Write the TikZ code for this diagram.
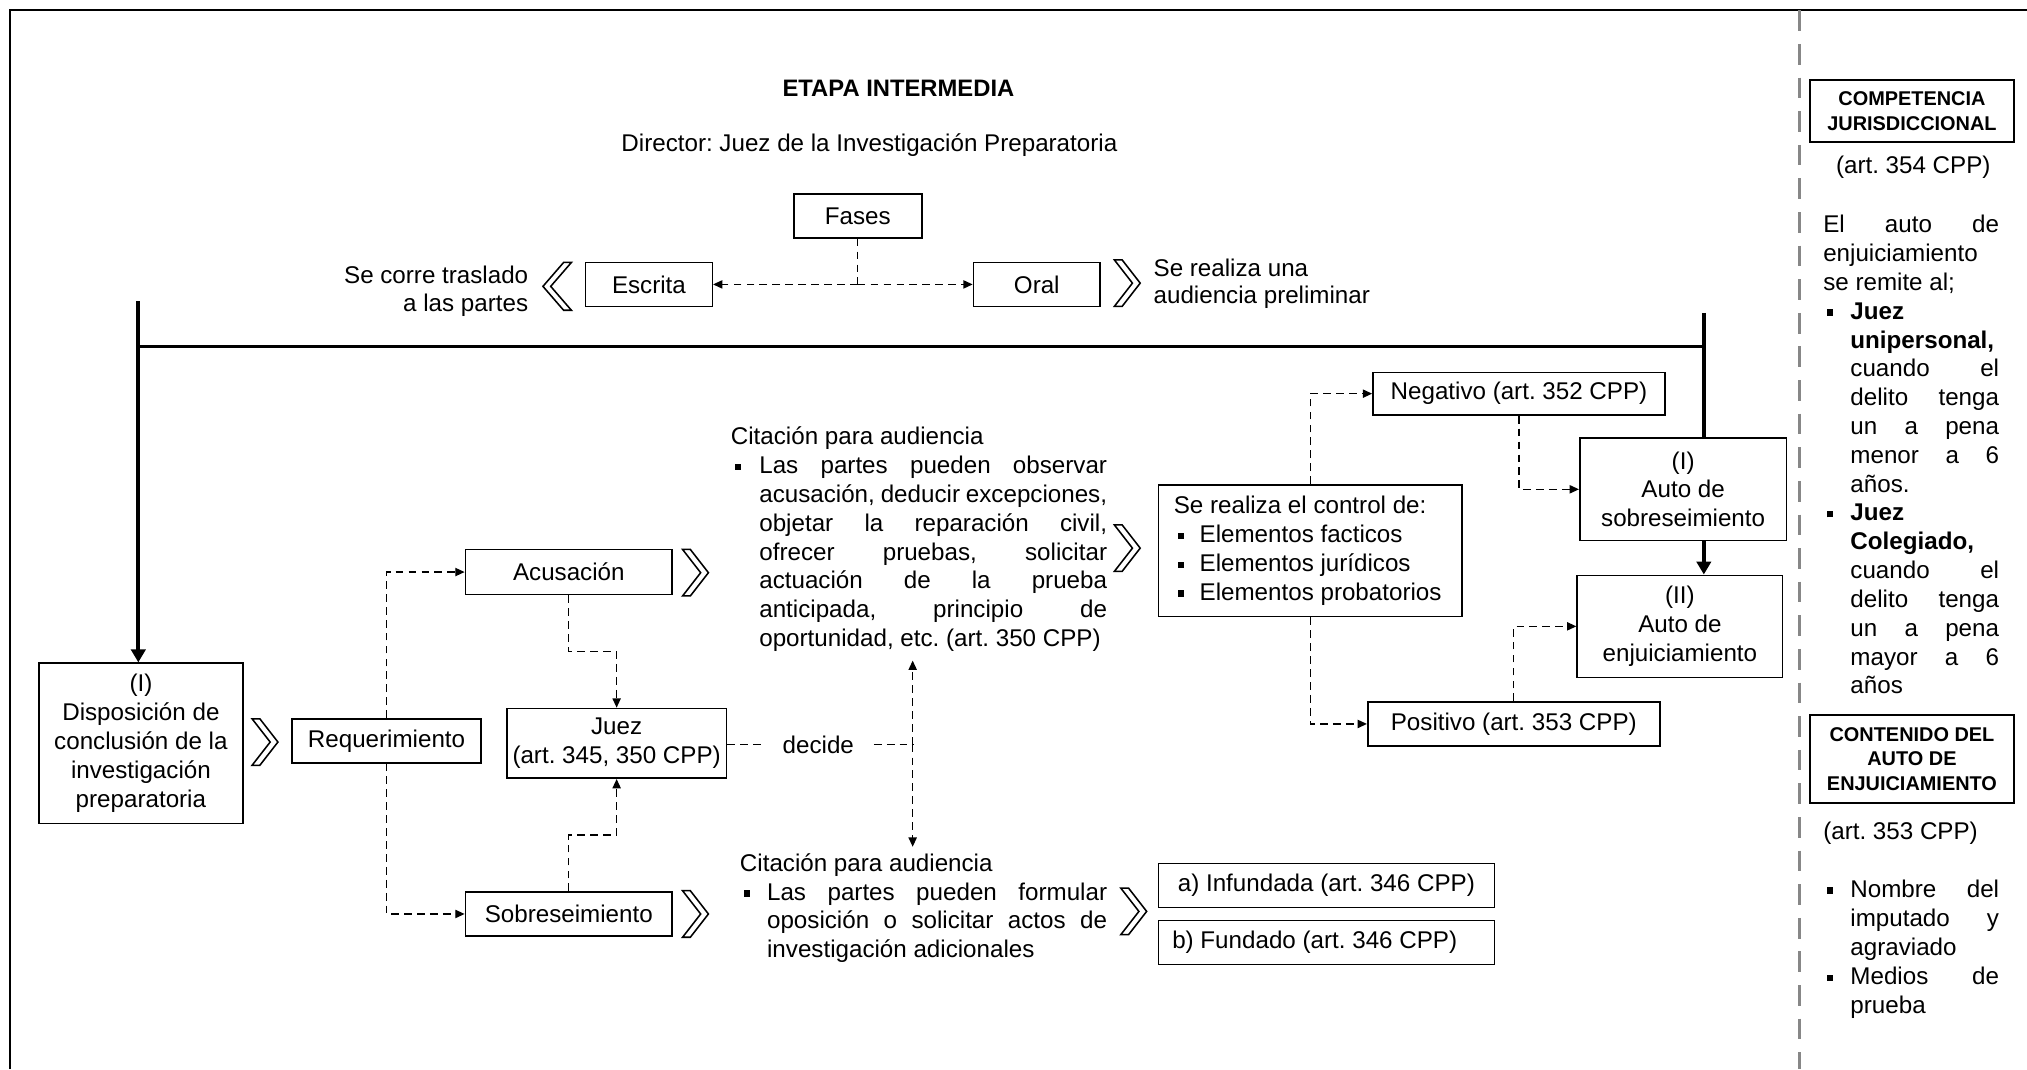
\documentclass[tikz,border=0pt]{standalone}
\usepackage{fontspec}
\setmainfont{Liberation Sans}
\usetikzlibrary{arrows.meta,calc}
\frenchspacing

% small square bullet
\newcommand\bul{\rule[1.4pt]{2.4pt}{2.4pt}}
% bullet + justified line / bullet + natural line
\newcommand\bj[3]{\makebox[#1][l]{\hspace*{1.5pt}\bul}\makebox[#2][s]{#3}}
\newcommand\bn[2]{\makebox[#1][l]{\hspace*{1.5pt}\bul}#2}
% continuation line: justified / natural
\newcommand\cj[3]{\hspace*{#1}\makebox[#2][s]{#3}}
\newcommand\cn[2]{\hspace*{#1}#2}

\tikzset{
  body/.style={font=\fontsize{9.35}{11.15}\selectfont},
  txt/.style={body, inner sep=0pt},
  box/.style={draw, line width=0.6pt, fill=white, inner sep=0pt, align=flush center, body},
  headbox/.style={draw, line width=0.6pt, fill=white, inner sep=0pt, align=flush center,
    font=\bfseries\fontsize{7.7}{9.5}\selectfont, minimum width=79pt},
  link/.style={line width=0.5pt, dash pattern=on 3pt off 2pt},
  tip/.style={-{Triangle[length=3.6pt,width=3.2pt]}},
  trunk/.style={line width=1.5pt},
  bigtip/.style={-{Triangle[length=5pt,width=5.5pt]}},
  chev/.style={line width=0.6pt, line join=miter},
  separator/.style={draw=black!47, line width=1.5pt, dash pattern=on 8pt off 5pt},
  chevR/.pic={\draw[chev] (0,0) -- (6,0) -- (20,18) -- (6,36) -- (0,36) -- (14,18) -- cycle;},
  chevL/.pic={\draw[chev] (22,0) -- (16,0) -- (0,18.5) -- (16,37) -- (22,37) -- (6,18.5) -- cycle;}
}

\begin{document}
\begin{tikzpicture}[x=0.5pt,y=-0.5pt]
\useasboundingbox (0,0) rectangle (1568,827);
\fill[white] (0,0) rectangle (1568,827);

% frame and separator
\draw[line width=0.75pt] (8,827) -- (8,8) -- (1568,8);
\draw[separator] (1392,8) -- (1392,827);

% headings
\node[font=\bfseries\fontsize{9.2}{10}\selectfont, inner sep=0pt] (title) at (695,68) {ETAPA INTERMEDIA};
\node[txt] (director) at (672.5,112) {Director: Juez de la Investigación Preparatoria};

% phases
\node[box, minimum width=49.5pt, minimum height=17pt] (fases) at (663.5,167) {Fases};
\node[box, minimum width=49pt, minimum height=17pt] (escrita) at (502,220) {Escrita};
\node[box, minimum width=49pt, minimum height=17pt] (oral) at (802,220) {Oral};
\coordinate (fj) at (663.5,220);
\draw[link] (fases.south) -- (fj);
\draw[link,tip] (fj) -- (escrita.east);
\draw[link,tip] (fj) -- (oral.west);

\node[txt, text width=80pt, align=flush right, anchor=base east] (escritaT) at (409,219)
  {Se corre traslado\\a las partes};
\pic at (420,203) {chevL};
\pic at (862,201) {chevR};
\node[txt, font=\fontsize{9.35}{10.5}\selectfont, text width=100pt, align=flush left, anchor=base west] (oralT) at (892,214)
  {Se realiza una\\audiencia preliminar};

% main boxes
\node[box, minimum width=79pt, minimum height=62pt] (disp) at (109,575)
  {(I)\\Disposición de\\conclusión de la\\investigación\\preparatoria};
\node[box, minimum width=73pt, minimum height=17pt] (req) at (299,573) {Requerimiento};
\node[box, minimum width=80pt, minimum height=17.5pt] (acu) at (440,442.5) {Acusación};
\node[box, minimum width=85pt, minimum height=27pt] (juez) at (477,575) {Juez\\(art. 345, 350 CPP)};
\node[box, minimum width=80pt, minimum height=17pt] (sob) at (440,707) {Sobreseimiento};

\pic at (195,556) {chevR};
\pic at (528,425) {chevR};
\pic at (528,689) {chevR};

% trunk lines
\coordinate (ltop) at (107,233);
\coordinate (rtop) at (1318,242);
\coordinate (hl) at (107,268);
\coordinate (hr) at (1318,268);
\draw[trunk] (hl) -- (hr);
\draw[trunk,bigtip] (ltop) -- (ltop |- disp.north);

% requirement branches
\draw[link,tip] (req.north) |- (acu.west);
\draw[link,tip] (req.south) |- (sob.west);
\draw[link,tip] (acu.south) |- ($(acu.south)!0.5!(juez.north)$) -| (juez.north);
\draw[link,tip] (sob.north) |- ($(sob.north)!0.5!(juez.south)$) -| (juez.south);

% decision
\node[txt, inner xsep=7.5pt] (decide) at (633,576) {decide};
\coordinate (dj) at (706,576);
\coordinate (up) at (706,511);
\coordinate (dn) at (706,655);
\draw[link] (juez.east |- dj) -- (decide.west);
\draw[link] (decide.east) -- (dj);
\draw[link,tip] (dj) -- (up);
\draw[link,tip] (dj) -- (dn);

% hearing texts
\node[txt, text width=145.5pt, align=flush left, anchor=base west] (cit1) at (565,344)
  {Citación para audiencia\\
   \bj{11pt}{134.5pt}{Las partes pueden observar}\\
   \cj{11pt}{134.5pt}{acusación, deducir excepciones,}\\
   \cj{11pt}{134.5pt}{objetar la reparación civil,}\\
   \cj{11pt}{134.5pt}{ofrecer pruebas, solicitar}\\
   \cj{11pt}{134.5pt}{actuación de la prueba}\\
   \cj{11pt}{134.5pt}{anticipada, principio de}\\
   \cn{11pt}{oportunidad, etc. (art. 350 CPP)}};
\node[txt, text width=142pt, align=flush left, anchor=base west] (cit2) at (572,674)
  {Citación para audiencia\\
   \bj{10.5pt}{131.5pt}{Las partes pueden formular}\\
   \cj{10.5pt}{131.5pt}{oposición o solicitar actos de}\\
   \cn{10.5pt}{investigación adicionales}};
\pic at (862,406) {chevR};
\pic at (867,687) {chevR};

% control
\node[box, align=flush left, text width=105.5pt, inner xsep=6pt, minimum height=51pt] (ctrl) at (1013.5,426)
  {Se realiza el control de:\\
   \bn{10pt}{Elementos facticos}\\
   \bn{10pt}{Elementos jurídicos}\\
   \bn{10pt}{Elementos probatorios}};
\node[box, minimum width=113pt, minimum height=16.5pt] (neg) at (1175,304.5) {Negativo (art. 352 CPP)};
\node[box, minimum width=113pt, minimum height=17pt] (pos) at (1171,560) {Positivo (art. 353 CPP)};
\node[box, minimum width=80pt, minimum height=39.5pt] (asob) at (1302,378.5) {(I)\\Auto de\\sobreseimiento};
\node[box, minimum width=79.5pt, minimum height=39.5pt] (aenj) at (1299.5,484.5) {(II)\\Auto de\\enjuiciamiento};
\draw[link,tip] (ctrl.north) |- (neg.west);
\draw[link,tip] (ctrl.south) |- (pos.west);
\draw[link,tip] (neg.south) |- (asob.west);
\draw[link,tip] (pos.north) |- (aenj.west);
\draw[trunk] (rtop) -- (rtop |- asob.north);
\draw[trunk,bigtip] (rtop |- asob.south) -- (rtop |- aenj.north);

% dismissal outcomes
\node[box, minimum width=130pt, minimum height=17pt] (inf) at (1026,685) {a) Infundada (art. 346 CPP)};
\node[box, minimum width=130pt, minimum height=17pt] (fun) at (1026,729) {b) Fundado (art. 346 CPP)\hspace*{9pt}};

% side column
\node[headbox, minimum height=24pt] (comp) at (1479,86) {COMPETENCIA\\JURISDICCIONAL};
\node[txt] (art354) at (1480,129) {(art. 354 CPP)};
\node[txt, text width=68pt, align=flush left, anchor=base west] (remite) at (1410,180)
  {\makebox[68pt][s]{El auto de}\\
   enjuiciamiento\\
   se remite al;\\
   \bn{10.5pt}{\textbf{Juez}}\\
   \cn{10.5pt}{\textbf{unipersonal,}}\\
   \cj{10.5pt}{57.5pt}{cuando el}\\
   \cj{10.5pt}{57.5pt}{delito tenga}\\
   \cj{10.5pt}{57.5pt}{un a pena}\\
   \cj{10.5pt}{57.5pt}{menor a 6}\\
   \cn{10.5pt}{años.}\\
   \bn{10.5pt}{\textbf{Juez}}\\
   \cn{10.5pt}{\textbf{Colegiado,}}\\
   \cj{10.5pt}{57.5pt}{cuando el}\\
   \cj{10.5pt}{57.5pt}{delito tenga}\\
   \cj{10.5pt}{57.5pt}{un a pena}\\
   \cj{10.5pt}{57.5pt}{mayor a 6}\\
   \cn{10.5pt}{años}};
\node[headbox, minimum height=34pt] (cont) at (1479,587) {CONTENIDO DEL\\AUTO DE\\ENJUICIAMIENTO};
\node[txt, anchor=base west] (art353) at (1410,649) {(art. 353 CPP)};
\node[txt, font=\fontsize{9.35}{11.25}\selectfont, text width=68pt, align=flush left, anchor=base west] (items) at (1410,694)
  {\bj{10.5pt}{57.5pt}{Nombre del}\\
   \cj{10.5pt}{57.5pt}{imputado y}\\
   \cn{10.5pt}{agraviado}\\
   \bj{10.5pt}{57.5pt}{Medios de}\\
   \cn{10.5pt}{prueba}};
\end{tikzpicture}
\end{document}
